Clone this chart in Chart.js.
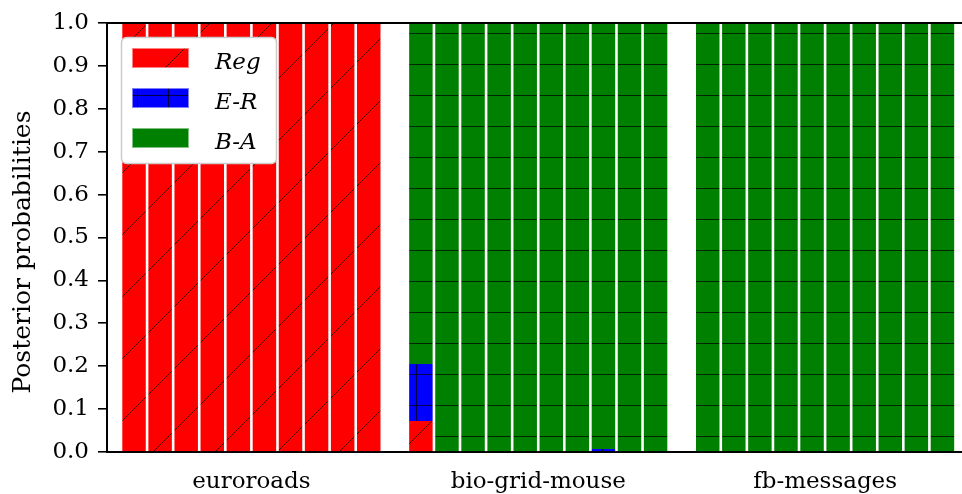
<!DOCTYPE html>
<html lang="en">
<head>
<meta charset="UTF-8">
<title>Posterior probabilities</title>
<script src="https://cdn.jsdelivr.net/npm/chart.js"></script>
<style>
  html, body { margin: 0; padding: 0; background: #fff; }
  #wrap { width: 962px; height: 494px; }
</style>
</head>
<body>
<div id="wrap"><canvas id="chart" width="962" height="494"></canvas></div>
<script>
  // networks, 10 runs each
  const groups = ['euroroads', 'bio-grid-mouse', 'fb-messages'];
  const models = ['Reg', 'E-R', 'B-A'];
  const runsPerGroup = 10;

  const regProb = [
    1, 1, 1, 1, 1, 1, 1, 1, 1, 1,
    0.072, 0, 0, 0, 0, 0, 0, 0, 0, 0,
    0, 0, 0, 0, 0, 0, 0, 0, 0, 0
  ];
  const erProb = [
    0, 0, 0, 0, 0, 0, 0, 0, 0, 0,
    0.133, 0, 0, 0, 0, 0, 0, 0.007, 0, 0,
    0, 0, 0, 0, 0, 0, 0, 0, 0, 0
  ];
  const baProb = [
    0, 0, 0, 0, 0, 0, 0, 0, 0, 0,
    0.795, 1, 1, 1, 1, 1, 1, 0.993, 1, 1,
    1, 1, 1, 1, 1, 1, 1, 1, 1, 1
  ];
  const yTicks = [0, 0.1, 0.2, 0.3, 0.4, 0.5, 0.6, 0.7, 0.8, 0.9, 1.0];

  const FONT = 'DejaVu Serif';

  // bar position: one empty slot between networks
  const xPos = regProb.map((_, i) => Math.floor(i / runsPerGroup) * (runsPerGroup + 1) + (i % runsPerGroup));
  const groupCenters = groups.map((_, g) => g * (runsPerGroup + 1) + (runsPerGroup - 1) / 2);

  // matplotlib-like hatches, anchored to the canvas origin
  function pattern(color, kind) {
    const size = kind === '/' ? 62 : 31;
    const c = document.createElement('canvas');
    c.width = c.height = size;
    const g = c.getContext('2d');
    g.fillStyle = color;
    g.fillRect(0, 0, size, size);
    g.strokeStyle = 'rgba(0,0,0,0.7)';
    g.lineWidth = 1;
    g.beginPath();
    if (kind === '/') {
      for (let k = -1; k <= 2; k++) {
        const c0 = 47 + 62 * k;
        g.moveTo(c0, 0);
        g.lineTo(c0 - 62, 62);
      }
    }
    if (kind === '-' || kind === '+') {
      g.moveTo(0, 2.5); g.lineTo(size, 2.5);
    }
    if (kind === '+') {
      g.moveTo(13.5, 0); g.lineTo(13.5, size);
    }
    g.stroke();
    return g.createPattern(c, 'repeat');
  }

  const fills = [pattern('#ff0000', '/'), pattern('#0000ff', '+'), pattern('#008000', '-')];
  const series = [regProb, erProb, baProb];

  const datasets = models.map((m, k) => ({
    label: m,
    data: series[k].map((v, i) => ({ x: xPos[i], y: v })),
    backgroundColor: fills[k],
    borderColor: '#ffffff',
    borderWidth: { left: 1.3, right: 1.3, top: 0, bottom: 0 },
    borderSkipped: false,
    inflateAmount: 0,
    barPercentage: 1,
    categoryPercentage: 1
  }));

  // legend box drawn inside the axes, plus top spine and y label
  const decorations = {
    id: 'decorations',
    afterDatasetsDraw(chart) {
      const ctx = chart.ctx;
      const area = chart.chartArea;
      ctx.save();

      // top spine
      ctx.strokeStyle = '#000';
      ctx.lineWidth = 2;
      ctx.beginPath();
      ctx.moveTo(area.left, area.top);
      ctx.lineTo(area.right, area.top);
      ctx.stroke();

      // legend
      const bx = area.left + 14, by = 37, bw = 155, bh = 126;
      ctx.beginPath();
      ctx.roundRect(bx + 0.5, by + 0.5, bw, bh, 5);
      ctx.fillStyle = '#ffffff';
      ctx.fill();
      ctx.strokeStyle = '#cccccc';
      ctx.lineWidth = 1.5;
      ctx.stroke();

      chart.data.datasets.forEach((ds, k) => {
        const sy = by + 11 + k * 40;
        ctx.fillStyle = ds.backgroundColor;
        ctx.fillRect(bx + 11, sy, 57, 20);
        ctx.strokeStyle = 'rgba(255,255,255,0.5)';
        ctx.lineWidth = 1;
        ctx.strokeRect(bx + 11.5, sy + 0.5, 56, 19);
        ctx.fillStyle = '#000';
        ctx.font = 'italic 23px "' + FONT + '"';
        ctx.textAlign = 'left';
        ctx.textBaseline = 'alphabetic';
        ctx.fillText(ds.label, bx + 94, sy + 21);
      });

      // y axis title
      ctx.translate(23, 252);
      ctx.rotate(-Math.PI / 2);
      ctx.font = '25px "' + FONT + '"';
      ctx.textAlign = 'center';
      ctx.textBaseline = 'middle';
      ctx.fillStyle = '#000';
      ctx.fillText('Posterior probabilities', 0, 0);
      ctx.restore();
    }
  };

  const ctx = document.getElementById('chart').getContext('2d');
  new Chart(ctx, {
    type: 'bar',
    data: { datasets: datasets },
    plugins: [decorations],
    options: {
      responsive: false,
      animation: false,
      layout: { padding: { top: 23, left: 0, right: 0, bottom: 0 } },
      plugins: {
        legend: { display: false },
        tooltip: { enabled: false }
      },
      scales: {
        x: {
          type: 'linear',
          stacked: true,
          offset: false,
          min: -1.037,
          max: 31.75,
          grid: { display: false, offset: false },
          border: { display: true, color: '#000', width: 2 },
          afterBuildTicks: scale => { scale.ticks = groupCenters.map(v => ({ value: v })); },
          afterFit: scale => { scale.height = 42; },
          ticks: {
            autoSkip: false,
            maxRotation: 0,
            padding: 8,
            color: '#000',
            font: { family: FONT, size: 23 },
            callback: (v, i) => groups[i]
          }
        },
        y: {
          stacked: true,
          min: 0,
          max: 1,
          grid: { display: true, drawOnChartArea: false, tickLength: 9, tickColor: '#000', lineWidth: 1.6 },
          border: { display: true, color: '#000', width: 2 },
          afterBuildTicks: scale => { scale.ticks = yTicks.map(v => ({ value: v })); },
          afterFit: scale => { scale.width = 107; },
          ticks: {
            padding: 9,
            color: '#000',
            font: { family: FONT, size: 23 },
            callback: v => v.toFixed(1)
          }
        }
      }
    }
  });
</script>
</body>
</html>
